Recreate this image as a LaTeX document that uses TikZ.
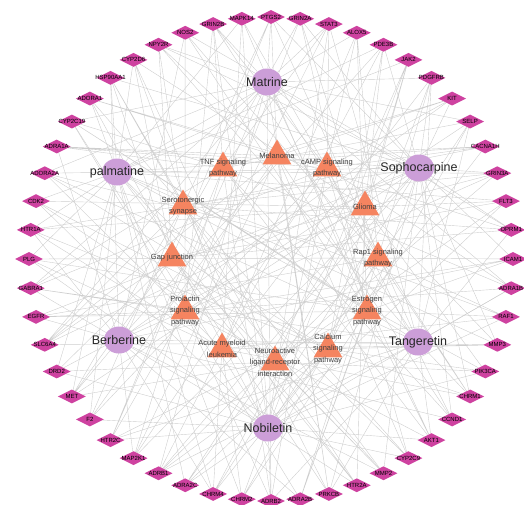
\documentclass[tikz,border=0pt]{standalone}
\usepackage{fontspec}
\setmainfont{Liberation Sans}
\usetikzlibrary{shapes.geometric,backgrounds}

\definecolor{drugcol}{RGB}{204,158,216}
\definecolor{targetcol}{RGB}{206,66,160}
\definecolor{pathcol}{RGB}{245,132,96}
\definecolor{edgecol}{RGB}{206,206,206}

\begin{document}
\begin{tikzpicture}[x=1pt, y=-1pt, line join=round, line cap=round,
  drug/.style={ellipse, fill=drugcol, minimum width=30pt, minimum height=27pt, inner sep=0pt},
  drugtext/.style={font=\fontsize{12.5}{14}\selectfont, text=black!85},
  pathway/.style={regular polygon, regular polygon sides=3, fill=pathcol, minimum size=33pt, inner sep=0pt},
  pathtext/.style={font=\fontsize{7.5}{11.5}\selectfont, text=black!75, align=center},
  target/.style={diamond, fill=targetcol, minimum width=28pt, minimum height=14pt, inner sep=0pt},
  targettext/.style={font=\fontsize{6}{7}\selectfont, text=black},
  link/.style={draw=edgecol, line width=0.4pt}]
  \useasboundingbox (0,0) rectangle (524,504);

  % 化合物节点
  \node[drug, label={[drugtext]center:Matrine}] (c1) at (267,82) {};
  \node[drug, label={[drugtext]center:Sophocarpine}] (c2) at (419,168) {};
  \node[drug, label={[drugtext]center:Tangeretin}] (c3) at (418,342) {};
  \node[drug, label={[drugtext]center:Nobiletin}] (c4) at (268,428) {};
  \node[drug, label={[drugtext]center:Berberine}] (c5) at (119,340) {};
  \node[drug, label={[drugtext]center:palmatine}] (c6) at (117,172) {};

  % 通路节点
  \node[pathway, label={[pathtext]center:Melanoma}] (p1) at (277,156) {};
  \node[pathway, label={[pathtext]center:{TNF signaling\\pathway}}] (p2) at (223,168) {};
  \node[pathway, label={[pathtext]center:{cAMP signaling\\pathway}}] (p3) at (327,168) {};
  \node[pathway, label={[pathtext]center:{Serotonergic\\synapse}}] (p4) at (183,206) {};
  \node[pathway, label={[pathtext]center:Glioma}] (p5) at (365,207) {};
  \node[pathway, label={[pathtext]center:Gap junction}] (p6) at (172,258) {};
  \node[pathway, label={[pathtext]center:{Rap1 signaling\\pathway}}] (p7) at (378,258) {};
  \node[pathway, label={[pathtext]center:{Prolactin\\signaling\\pathway}}] (p8) at (185,311) {};
  \node[pathway, label={[pathtext]center:{Estrogen\\signaling\\pathway}}] (p9) at (367,311) {};
  \node[pathway, label={[pathtext]center:{Acute myeloid\\leukemia}}] (p10) at (222,349) {};
  \node[pathway, label={[pathtext]center:{Neuroactive\\ligand-receptor\\interaction}}] (p11) at (275,362) {};
  \node[pathway, label={[pathtext]center:{Calcium\\signaling\\pathway}}] (p12) at (328,349) {};

  % 靶点环
  \foreach \name [count=\k from 0] in {PTGS2,GRIN2A,STAT3,ALOX5,PDE3B,JAK2,PDGFRB,KIT,SELP,CACNA1H,
      GRIN3A,FLT3,OPRM1,ICAM1,ADRA1B,RAF1,MMP3,PIK3CA,CHRM1,CCND1,AKT1,CYP2C9,MMP2,HTR2A,PRKCB,
      ADRA2B,ADRB2,CHRM2,CHRM4,ADRA2C,ADRB1,MAP2K1,HTR2C,F2,MET,DRD2,SLC6A4,EGFR,GABRA1,PLG,
      HTR1A,CDK2,ADORA2A,ADRA1A,CYP2C19,ADORA1,HSP90AA1,CYP2D6,NPY2R,NOS2,GRIN2B,MAPK14}
    \node[target, label={[targettext]center:\name}] (t\k)
      at ({271+242*cos(90-6.923077*\k)}, {259-242*sin(90-6.923077*\k)}) {};

  % 连线
  \begin{scope}[on background layer]
    \foreach \k in {0,...,51} {
      \pgfmathtruncatemacro{\ca}{mod(\k,6)+1}
      \pgfmathtruncatemacro{\cb}{mod(\k+2+mod(\k,3),6)+1}
      \pgfmathtruncatemacro{\pa}{mod(7*\k,12)+1}
      \pgfmathtruncatemacro{\pb}{mod(5*\k+3,12)+1}
      \pgfmathtruncatemacro{\pc}{mod(\k+5,12)+1}
      \draw[link] (t\k) -- (c\ca) (t\k) -- (c\cb)
        (t\k) -- (p\pa) (t\k) -- (p\pb) (t\k) -- (p\pc);
    }
    \foreach \k in {0,2,...,50} {
      \pgfmathtruncatemacro{\cc}{mod(\k+1,6)+1}
      \draw[link] (t\k) -- (c\cc);
    }
  \end{scope}
\end{tikzpicture}
\end{document}
